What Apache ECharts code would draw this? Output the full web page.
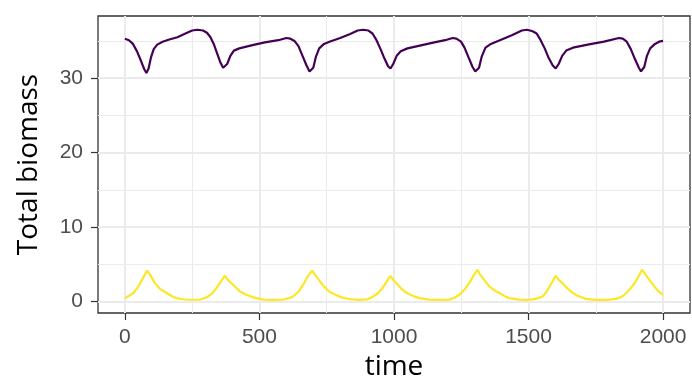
<!DOCTYPE html>
<html>
<head>
<meta charset="utf-8">
<script src="https://cdn.jsdelivr.net/npm/echarts@6/dist/echarts.min.js"></script>
<style>
html,body{margin:0;padding:0;background:#fff;}
#chart{width:692px;height:377px;}
</style>
</head>
<body>
<div id="chart"></div>
<script>
// ---- data ----
const purpleTime = [0,15,30,45,60,72,80,88,97,107,120,140,165,195,225,250,270,290,305,318,330,342,355,365,371,380,392,405,425,470,520,570,600,615,630,645,660,675,686,692,700,710,722,740,760,800,835,865,885,905,920,935,950,965,978,987,997,1010,1025,1050,1100,1150,1190,1218,1232,1249,1262,1277,1292,1302,1308,1316,1326,1340,1360,1400,1440,1475,1495,1515,1530,1545,1560,1575,1590,1601,1612,1625,1640,1665,1720,1780,1836,1850,1865,1880,1895,1910,1918,1922,1930,1940,1952,1970,1985,2000];
const purpleValue = [35.3,35.1,34.6,33.6,32.3,31.2,30.7,31.3,32.8,33.9,34.5,34.9,35.2,35.5,36.0,36.4,36.5,36.4,36.1,35.5,34.6,33.4,32.1,31.4,31.3,31.9,33.0,33.7,34.0,34.4,34.8,35.1,35.4,35.3,35.0,34.3,33.0,31.7,30.9,30.7,31.4,32.9,34.0,34.6,34.9,35.4,35.9,36.4,36.5,36.4,36.0,35.1,33.9,32.6,31.6,31.3,31.9,33.0,33.6,34.0,34.4,34.8,35.1,35.4,35.3,34.9,34.1,32.8,31.5,30.9,30.7,31.4,32.9,34.1,34.6,35.2,35.8,36.4,36.5,36.3,36.0,35.1,34.0,32.7,31.7,31.3,31.9,33.0,33.7,34.1,34.5,34.9,35.4,35.3,34.9,33.9,32.6,31.4,30.9,30.7,31.5,33.0,34.0,34.6,34.9,35.0];

const yellowTime = [0,31,50,65,77,83,95,111,130,155,175,192,215,240,278,300,309,325,340,355,365,371,385,402,425,451,470,488,515,550,587,610,625,645,665,680,696,710,725,740,760,785,810,840,870,900,920,940,955,970,980,987,995,1010,1025,1045,1070,1094,1130,1165,1205,1225,1243,1262,1280,1296,1310,1320,1335,1355,1375,1391,1410,1428,1465,1490,1515,1535,1552,1565,1580,1592,1601,1610,1625,1638,1660,1680,1713,1750,1790,1825,1848,1865,1885,1900,1912,1922,1935,1947,1960,1972,1985,2000];
const yellowValue = [0.45,1.1,2.0,3.0,3.8,4.15,3.5,2.5,1.7,1.13,0.7,0.45,0.3,0.23,0.23,0.5,0.67,1.1,1.8,2.6,3.1,3.45,2.8,2.24,1.4,0.9,0.65,0.45,0.25,0.2,0.23,0.45,0.67,1.3,2.4,3.4,4.15,3.4,2.7,2.0,1.3,0.85,0.5,0.3,0.22,0.28,0.6,1.1,1.7,2.5,3.1,3.45,3.0,2.4,1.8,1.2,0.75,0.45,0.25,0.2,0.25,0.5,0.9,1.6,2.5,3.5,4.25,3.6,2.9,2.0,1.45,1.13,0.75,0.45,0.25,0.22,0.28,0.45,0.67,1.2,2.1,2.9,3.45,3.0,2.5,2.0,1.25,0.8,0.35,0.22,0.22,0.35,0.67,1.2,2.0,2.8,3.6,4.25,3.6,3.0,2.4,1.8,1.3,0.9];

const xTicks = [0, 500, 1000, 1500, 2000];
const xMinor = [250, 750, 1250, 1750];
const yTicks = [0, 10, 20, 30];
const yMinor = [5, 15, 25, 35];

const xTitle = 'time';
const yTitle = 'Total biomass';

// ---- build ----
const zip = (a, b) => a.map((v, i) => [v, b[i]]);
const gridCol = '#EBEBEB';
const gridLines = []
  .concat(xTicks.map(v => ({ xAxis: v, lineStyle: { width: 2 } })))
  .concat(xMinor.map(v => ({ xAxis: v, lineStyle: { width: 1 } })))
  .concat(yTicks.map(v => ({ yAxis: v, lineStyle: { width: 2 } })))
  .concat(yMinor.map(v => ({ yAxis: v, lineStyle: { width: 1 } })));

const labelFont = { fontFamily: 'Liberation Sans', fontSize: 21, color: '#4D4D4D' };
const titleFont = { fontFamily: 'Open Sans', fontSize: 28, color: '#000' };
const plain = v => String(v);

const chart = echarts.init(document.getElementById('chart'), null, { renderer: 'canvas' });
chart.setOption({
  animation: false,
  backgroundColor: '#fff',
  grid: { left: 98, right: 2, top: 16, bottom: 64, show: true, borderColor: '#333333', borderWidth: 1.3, backgroundColor: 'transparent', containLabel: false, outerBoundsMode: 'none' },
  xAxis: {
    type: 'value', min: -100, max: 2100, position: 'bottom',
    name: xTitle, nameLocation: 'middle', nameGap: 38, nameTextStyle: titleFont,
    axisLine: { show: false, onZero: false },
    axisTick: { show: true, inside: false, length: 7, lineStyle: { color: '#333333', width: 1.2 }, customValues: xTicks },
    axisLabel: Object.assign({ margin: 14, customValues: xTicks, formatter: plain }, labelFont),
    splitLine: { show: false }, minorSplitLine: { show: false }
  },
  yAxis: {
    type: 'value', min: -1.55, max: 38.35, position: 'left',
    name: yTitle, nameLocation: 'middle', nameGap: 55, nameTextStyle: titleFont,
    axisLine: { show: false, onZero: false },
    axisTick: { show: true, inside: false, length: 7, lineStyle: { color: '#333333', width: 1.2 }, customValues: yTicks },
    axisLabel: Object.assign({ margin: 15, customValues: yTicks, formatter: plain }, labelFont),
    splitLine: { show: false }, minorSplitLine: { show: false }
  },
  series: [
    {
      type: 'line', data: [], z: 1, silent: true,
      markLine: {
        silent: true, symbol: 'none', z: 1, animation: false,
        label: { show: false },
        lineStyle: { color: gridCol, type: 'solid' },
        data: gridLines
      }
    },
    {
      type: 'line', data: zip(purpleTime, purpleValue), z: 3,
      showSymbol: false, symbol: 'none',
      lineStyle: { color: '#440154', width: 2.2 }, itemStyle: { color: '#440154' }
    },
    {
      type: 'line', data: zip(yellowTime, yellowValue), z: 3,
      showSymbol: false, symbol: 'none',
      lineStyle: { color: '#FDE725', width: 2.2 }, itemStyle: { color: '#FDE725' }
    }
  ]
});
</script>
</body>
</html>
